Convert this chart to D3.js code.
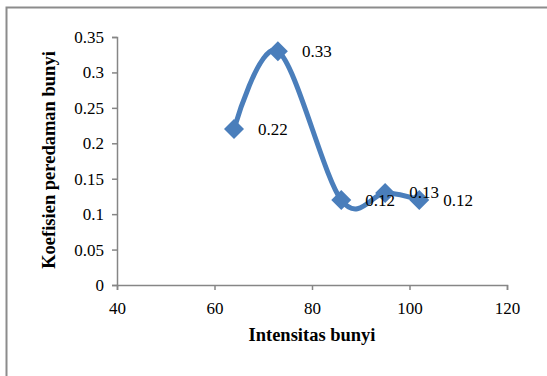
<!DOCTYPE html>
<html>
<head>
<meta charset="utf-8">
<script src="https://cdn.jsdelivr.net/npm/d3@7"></script>
<style>
  body { margin: 0; background: #fff; }
</style>
</head>
<body>
<svg id="chart" width="547" height="376"></svg>
<script>
// data
var intensitas = [64, 73, 86, 95, 102];
var koefisien = [0.22, 0.33, 0.12, 0.13, 0.12];
var xTicks = [40, 60, 80, 100, 120];
var yTicks = [0, 0.05, 0.1, 0.15, 0.2, 0.25, 0.3, 0.35];

var serif = "'Liberation Serif', 'Times New Roman', 'DejaVu Serif', serif";
var svg = d3.select("#chart").attr("font-family", serif);
var blue = "#4a7ebb";
var grey = "#868686";

// chart frame (only top and left edges are in view)
svg.append("path")
  .attr("d", "M6.5,376 V7.5 H547")
  .attr("fill", "none")
  .attr("stroke", "#8c8c8c")
  .attr("stroke-width", 2);

var x = d3.scaleLinear().domain([40, 120]).range([117, 507]);
var y = d3.scaleLinear().domain([0, 0.35]).range([285, 37]);

var xAxis = svg.append("g")
  .attr("transform", "translate(0,285)")
  .call(d3.axisBottom(x).tickValues(xTicks).tickSize(5).tickPadding(12).tickFormat(d3.format("d")));
var yAxis = svg.append("g")
  .attr("transform", "translate(117,0)")
  .call(d3.axisLeft(y).tickValues(yTicks).tickSize(5).tickPadding(8).tickFormat(function(d) { return String(+d.toFixed(2)); }));

[xAxis, yAxis].forEach(function(a) {
  a.attr("font-family", serif).attr("font-size", 17);
  a.select(".domain").attr("stroke", grey).attr("stroke-width", 1.5);
  a.selectAll(".tick line").attr("stroke", grey).attr("stroke-width", 1.5);
  a.selectAll(".tick text").attr("fill", "#000");
});

var pts = intensitas.map(function(v, i) { return [v, koefisien[i]]; });

var line = d3.line()
  .x(function(d) { return x(d[0]); })
  .y(function(d) { return y(d[1]); })
  .curve(d3.curveCardinal.tension(0));

svg.append("path")
  .datum(pts)
  .attr("d", line)
  .attr("fill", "none")
  .attr("stroke", blue)
  .attr("stroke-width", 5)
  .attr("stroke-linecap", "round");

svg.selectAll(".marker")
  .data(pts)
  .enter().append("path")
    .attr("class", "marker")
    .attr("transform", function(d) { return "translate(" + x(d[0]) + "," + y(d[1]) + ")"; })
    .attr("d", "M0,-10 L10,0 L0,10 L-10,0 Z")
    .attr("fill", blue);

svg.selectAll(".label")
  .data(pts)
  .enter().append("text")
    .attr("class", "label")
    .attr("x", function(d) { return x(d[0]) + 24; })
    .attr("y", function(d, i) { return y(d[1]) + (i == 3 ? -1 : 0); })
    .attr("dy", "0.35em")
    .attr("font-size", 17)
    .text(function(d) { return d[1]; });

svg.append("text")
  .attr("x", 312)
  .attr("y", 341)
  .attr("text-anchor", "middle")
  .attr("font-size", 18.5)
  .attr("font-weight", "bold")
  .text("Intensitas bunyi");

svg.append("text")
  .attr("transform", "translate(55,160) rotate(-90)")
  .attr("text-anchor", "middle")
  .attr("font-size", 18.5)
  .attr("font-weight", "bold")
  .text("Koefisien peredaman bunyi");
</script>
</body>
</html>
